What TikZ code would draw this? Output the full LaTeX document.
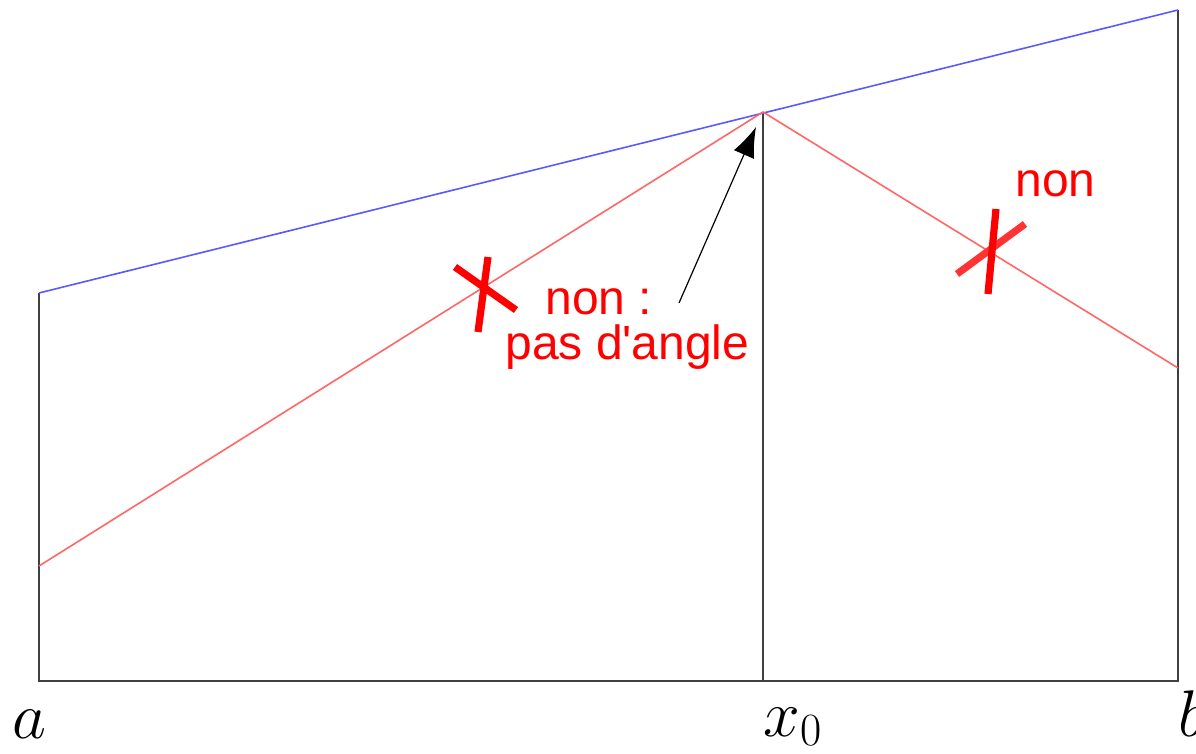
\RequirePackage{fix-cm}
\documentclass[tikz,border=0pt]{standalone}
\usepackage{fontspec}
\newfontfamily\arialfont{Liberation Sans}
\usetikzlibrary{arrows.meta}

\begin{document}
\begin{tikzpicture}[x=0.5pt,y=-0.5pt,
  axe/.style={black!75, line width=1pt},
  bleu/.style={blue!65, line width=0.8pt},
  rouge/.style={red!60, line width=0.8pt},
  croix/.style={red, line width=3.6pt},
  remarque/.style={font={\arialfont\fontsize{24}{24}\selectfont}, text=red, anchor=base west, inner sep=0pt},
  borne/.style={font={\fontsize{33}{35}\selectfont}, anchor=base west, inner sep=0pt}]
\useasboundingbox (0,0) rectangle (1196,754);
% points of the figure
\coordinate (pa) at (39,681);
\coordinate (px) at (763,681);
\coordinate (pb) at (1178,681);
\coordinate (ha) at (39,293);
\coordinate (hx) at (763,112);
\coordinate (hb) at (1178,10);
\coordinate (ra) at (39,566);
\coordinate (rb) at (1178,368);
% frame
\draw[axe] (ha) -- (pa) -- (pb) -- (hb);
\draw[axe] (px) -- (hx);
% the two functions
\draw[bleu] (ha) -- (hb);
\draw[rouge] (ra) -- (hx) -- (rb);
% crosses
\draw[croix] (455,267) -- (516,310);
\draw[croix] (488,257) -- (478,332);
\draw[croix, red!80] (957,274) -- (1025,224);
\draw[croix] (996,209) -- (988,294);
% comments
\node[remarque] (non1) at (545,315) {non :};
\node[remarque] (angle) at (505,360) {pas d'angle};
\node[remarque] (non2) at (1015,197) {non};
\coordinate (queue) at (679,303);
\coordinate (pointe) at (756,127);
\draw[black, line width=0.6pt, -{Latex[length=15pt,width=11pt]}] (queue) -- (pointe);
% bounds
\node[borne] (la) at (12,738) {$a$};
\node[borne] (lx) at (763,736) {$x_0$};
\node[borne] (lb) at (1178,736) {$b$};
\end{tikzpicture}
\end{document}
